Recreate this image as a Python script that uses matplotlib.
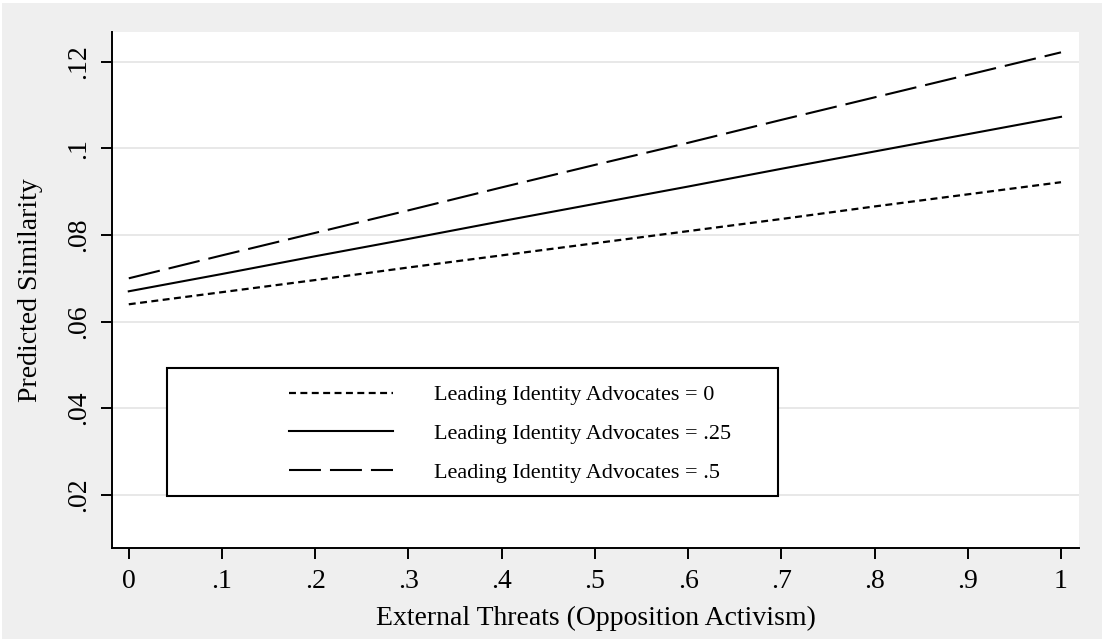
import numpy as np
import matplotlib
matplotlib.use("Agg")
import matplotlib.pyplot as plt
from matplotlib.patches import Rectangle

# predicted similarity by external threats, for three levels of leading identity advocates
threats = [0, .1, .2, .3, .4, .5, .6, .7, .8, .9, 1]
sim_lia_0 = [0.0640, 0.0668, 0.0696, 0.0725, 0.0753, 0.0781, 0.0809, 0.0837, 0.0866, 0.0894, 0.0922]
sim_lia_25 = [0.0670, 0.0710, 0.0751, 0.0791, 0.0832, 0.0872, 0.0912, 0.0953, 0.0993, 0.1033, 0.1073]
sim_lia_5 = [0.0700, 0.0753, 0.0805, 0.0857, 0.0910, 0.0962, 0.1013, 0.1066, 0.1118, 0.1170, 0.1222]

labels = ["Leading Identity Advocates = 0",
          "Leading Identity Advocates = .25",
          "Leading Identity Advocates = .5"]

xticks = [0, .1, .2, .3, .4, .5, .6, .7, .8, .9, 1]
xticklabels = ["0", ".1", ".2", ".3", ".4", ".5", ".6", ".7", ".8", ".9", "1"]
yticks = [.02, .04, .06, .08, .10, .12]
yticklabels = [".02", ".04", ".06", ".08", ".1", ".12"]

plt.rcParams['font.family'] = ['Liberation Serif', 'DejaVu Serif']
plt.rcParams['lines.scale_dashes'] = False

fig = plt.figure(figsize=(11.02, 6.39), dpi=100, facecolor='white')
# grey backdrop with a thin white margin on the top and left
fig.patches.append(Rectangle((2/1102, 0), 1, 1 - 3/639, transform=fig.transFigure,
                             facecolor='#efefef', edgecolor='none', zorder=-10))

ax = fig.add_axes([112/1102, 1 - 548/639, 967/1102, 516/639])
ax.set_facecolor('white')

ax.plot(threats, sim_lia_0, color='black', lw=1.6, dashes=(5, 3.2), label=labels[0])
ax.plot(threats, sim_lia_25, color='black', lw=1.5, label=labels[1])
ax.plot(threats, sim_lia_5, color='black', lw=1.5, dashes=(23, 6.5), label=labels[2])

ax.set_xlim(-0.018, 1.0193)
ax.set_ylim(0.0077, 0.1269)

ax.set_xticks(xticks)
ax.set_xticklabels(xticklabels)
ax.set_yticks(yticks)
ax.set_yticklabels(yticklabels, rotation=90, va='center')

ax.tick_params(axis='both', direction='out', length=8, width=1.4, labelsize=20, pad=7)
ax.yaxis.grid(True, color='#e8e8e8', lw=1.4)
ax.set_axisbelow(True)

for side in ['top', 'right']:
    ax.spines[side].set_visible(False)
for side in ['left', 'bottom']:
    ax.spines[side].set_linewidth(1.4)

ax.set_xlabel("External Threats (Opposition Activism)", fontsize=20, labelpad=9)
ax.set_ylabel("Predicted Similarity", fontsize=20, labelpad=17)

# legend box
ax.add_patch(Rectangle((0.0569, 0.1008), 0.6318, 0.2480, transform=ax.transAxes,
                       facecolor='white', edgecolor='black', lw=1.5, zorder=4))
leg = ax.legend(loc='upper left', bbox_to_anchor=(0.183, 0.316), frameon=False,
                fontsize=16, handlelength=4.68, handletextpad=1.85,
                labelspacing=0.82, borderpad=0, borderaxespad=0)
leg.set_zorder(5)

fig.savefig("out.png", dpi=100, facecolor=fig.get_facecolor())
